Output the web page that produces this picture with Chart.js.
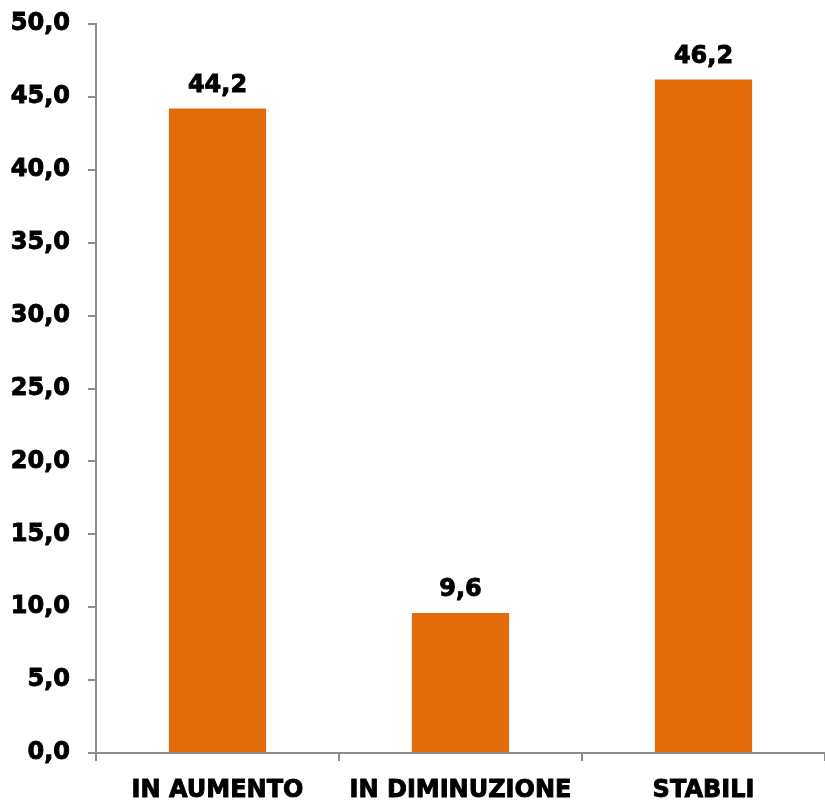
<!DOCTYPE html>
<html>
<head>
<meta charset="utf-8">
<script src="https://cdn.jsdelivr.net/npm/chart.js@4/dist/chart.umd.min.js"></script>
<style>
  body { margin: 0; background: #fff; }
  #wrap { width: 825px; height: 800px; }
</style>
</head>
<body>
<div id="wrap"><canvas id="chart" width="825" height="800"></canvas></div>
<script>
// chart values
const categories = ['IN AUMENTO', 'IN DIMINUZIONE', 'STABILI'];
const values = [44.2, 9.6, 46.2];
const yMin = 0;
const yMax = 50;
const yStep = 5;

const axisGray = '#8c8c8c';
const barOrange = '#e36c0a';
const fontFamily = '"DejaVu Sans", Verdana, sans-serif';

// format with italian comma
function fmt(v) {
    return Number(v).toFixed(1).replace('.', ',');
}

// draw the value above each bar
const valueLabels = {
    id: 'valueLabels',
    afterDatasetsDraw(chart) {
        const ctx = chart.ctx;
        const meta = chart.getDatasetMeta(0);
        ctx.save();
        ctx.fillStyle = '#000';
        ctx.strokeStyle = '#000';
        ctx.lineWidth = 0.9;
        ctx.font = 'bold 24px ' + fontFamily;
        ctx.textAlign = 'center';
        ctx.textBaseline = 'bottom';
        meta.data.forEach(function(bar, i) {
            ctx.fillText(fmt(values[i]), bar.x, bar.y - 11);
            ctx.strokeText(fmt(values[i]), bar.x, bar.y - 11);
        });
        ctx.restore();
    }
};

const ctx = document.getElementById('chart').getContext('2d');
const myChart = new Chart(ctx, {
    type: 'bar',
    data: {
        labels: categories,
        datasets: [{
            data: values,
            backgroundColor: barOrange,
            borderWidth: 0,
            categoryPercentage: 1.0,
            barPercentage: 0.4
        }]
    },
    options: {
        responsive: false,
        animation: false,
        layout: { padding: { top: 24, right: 0, left: 0, bottom: 0 } },
        plugins: {
            legend: { display: false },
            tooltip: { enabled: false }
        },
        scales: {
            x: {
                offset: true,
                afterFit(scale) { scale.height = 47; },
                border: { color: axisGray, width: 2 },
                grid: {
                    offset: true,
                    drawOnChartArea: false,
                    drawTicks: true,
                    tickLength: 8,
                    color: axisGray,
                    lineWidth: 2
                },
                ticks: {
                    color: '#000',
                    padding: 15,
                    maxRotation: 0,
                    textStrokeColor: '#000',
                    textStrokeWidth: 0.9,
                    font: { family: fontFamily, size: 24, weight: 'bold' }
                }
            },
            y: {
                min: yMin,
                max: yMax,
                afterFit(scale) {
                    scale.width = 96;
                    scale.paddingTop = 0;
                    scale.paddingBottom = 0;
                },
                border: { color: axisGray, width: 2 },
                grid: {
                    drawOnChartArea: false,
                    drawTicks: true,
                    tickLength: 8,
                    color: axisGray,
                    lineWidth: 2
                },
                ticks: {
                    stepSize: yStep,
                    color: '#000',
                    padding: 18,
                    textStrokeColor: '#000',
                    textStrokeWidth: 0.9,
                    font: { family: fontFamily, size: 24, weight: 'bold', lineHeight: 0.8 },
                    callback: function(v) { return fmt(v); }
                }
            }
        }
    },
    plugins: [valueLabels]
});
</script>
</body>
</html>
